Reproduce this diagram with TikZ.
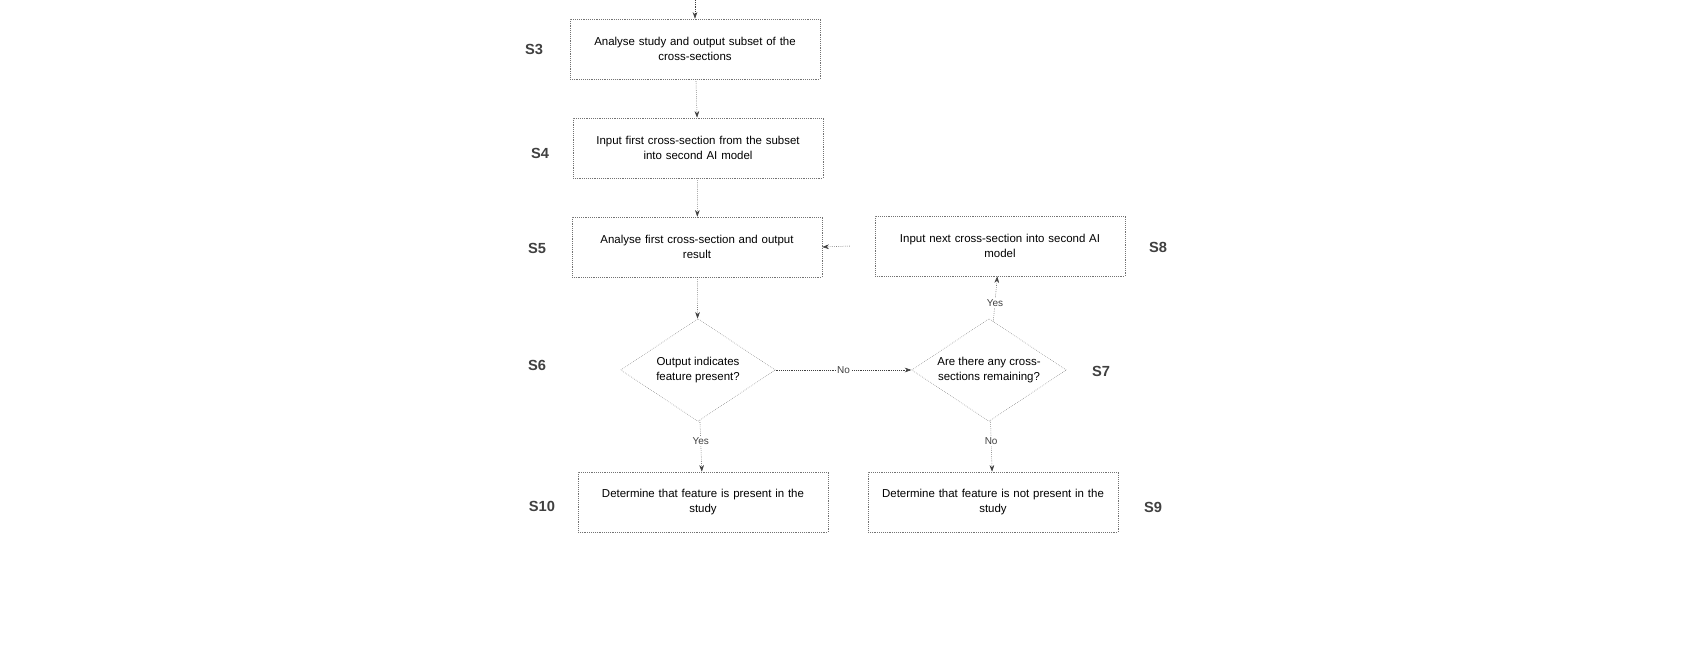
\documentclass[tikz,border=0pt]{standalone}
\usepackage{fontspec}
\setmainfont{Liberation Sans}
\usetikzlibrary{shapes.geometric,arrows.meta}
\begin{document}
\begin{tikzpicture}[x=0.75pt,y=-0.75pt,
  b/.style={draw=black!55,densely dotted,thin,minimum width=187.5pt,minimum height=45pt,align=center,text width=180pt,font=\fontsize{8.6}{11}\selectfont,inner sep=2pt},
  d/.style={diamond,draw=black!55,densely dotted,thin,minimum width=116pt,minimum height=77pt,aspect=1.5,align=center,font=\fontsize{8.6}{11}\selectfont,inner sep=0pt},
  s/.style={font=\bfseries\fontsize{11}{13}\selectfont,text=black!75},
  l/.style={font=\fontsize{7.5}{9}\selectfont,fill=white,inner sep=1pt},
  a/.style={-{Stealth[length=5pt,width=3.5pt]},densely dotted,black!75}]
\useasboundingbox (0,0) rectangle (1700,650);
\node[b] (s3) at (695,49) {Analyse study and output subset of the\\cross-sections};
\node[b] (s4) at (698,148) {Input first cross-section from the subset\\into second AI model};
\node[b] (s5) at (697,247) {Analyse first cross-section and output\\result};
\node[b] (s8) at (1000,246) {Input next cross-section into second AI\\model};
\node[d] (s6) at (698,370) {Output indicates\\feature present?};
\node[d] (s7) at (989,370) {Are there any cross-\\sections remaining?};
\node[b] (s10) at (703,502) {Determine that feature is present in the\\study};
\node[b] (s9) at (993,502) {Determine that feature is not present in the\\study};
\node[s] (l3) at (534,49) {S3};
\node[s] (l4) at (540,153) {S4};
\node[s] (l5) at (537,248) {S5};
\node[s] (l8) at (1158,247) {S8};
\node[s] (l6) at (537,365) {S6};
\node[s] (l7) at (1101,371) {S7};
\node[s] (l10) at (542,506) {S10};
\node[s] (l9) at (1153,507) {S9};
\coordinate (top) at (695,0);
\draw[a] (top) -- (s3);
\draw[a] (s3) -- (s4);
\draw[a] (s4) -- (s5);
\draw[a] (s5) -- (s6);
\draw[a] (s8.west) ++(-25,0) coordinate (e) -- (s5.east);
\draw[a] (s6) -- node[l] {No} (s7);
\draw[a] (s7) -- node[l,pos=0.4] {Yes} (s8);
\draw[a] (s6) -- node[l,pos=0.4] {Yes} (s10);
\draw[a] (s7) -- node[l,pos=0.4] {No} (s9);
\end{tikzpicture}
\end{document}
